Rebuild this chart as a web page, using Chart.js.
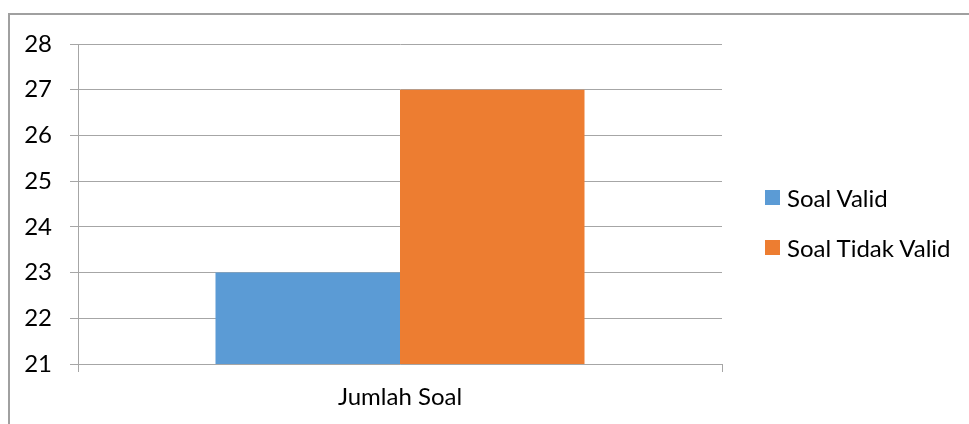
<!DOCTYPE html>
<html>
<head>
<meta charset="utf-8">
<script src="https://cdn.jsdelivr.net/npm/chart.js@4.4.1/dist/chart.umd.min.js"></script>
<style>
  html, body { margin: 0; padding: 0; background: #fff; overflow: hidden; }
  #wrap { position: relative; width: 969px; height: 424px; }
  #frame { position: absolute; left: 8px; top: 13px; width: 1000px; height: 500px; border: 2px solid #a0a0a0; box-sizing: border-box; }
  canvas { position: absolute; left: 0; top: 0; }
  #legend { position: absolute; left: 765px; top: 184px; font-family: Lato, sans-serif; font-size: 24px; color: #000; }
  .item { display: flex; align-items: center; height: 27px; margin-bottom: 23px; white-space: nowrap; }
  .box { width: 15px; height: 15px; margin-right: 7px; }
</style>
</head>
<body>
<div id="wrap">
  <div id="frame"></div>
  <canvas id="bars" width="969" height="424"></canvas>
  <div id="legend"></div>
</div>
<script>
// data
const categories = ['Jumlah Soal']
const seriesNames = ['Soal Valid', 'Soal Tidak Valid']
const soalValid = [23]
const soalTidakValid = [27]
const yTicks = [21, 22, 23, 24, 25, 26, 27, 28]

const colors = ['#5b9bd5', '#ed7d31']
const gridColor = '#a6a6a6'
const tickFont = { family: 'Lato', size: 24 }

const barConfig = {
    type: 'bar',
    data: {
        labels: categories,
        datasets: [{
            label: seriesNames[0],
            backgroundColor: colors[0],
            data: soalValid,
        }, {
            label: seriesNames[1],
            backgroundColor: colors[1],
            data: soalTidakValid,
        }],
    },
    options: {
        responsive: false,
        animation: false,
        devicePixelRatio: 1,
        barPercentage: 1,
        categoryPercentage: 0.573,
        layout: {
            padding: { top: 44, left: 0, right: 247, bottom: 0 },
        },
        plugins: {
            legend: { display: false },
            tooltip: { enabled: false },
        },
        scales: {
            x: {
                afterFit: scale => { scale.height = 60 },
                grid: {
                    drawOnChartArea: false,
                    drawTicks: true,
                    tickLength: 8,
                    color: gridColor,
                },
                border: { display: true, color: gridColor },
                ticks: { color: '#000', font: tickFont, padding: 11 },
            },
            y: {
                min: yTicks[0],
                max: yTicks[yTicks.length - 1],
                afterFit: scale => { scale.width = 78 },
                afterBuildTicks: scale => { scale.ticks = yTicks.map(v => ({ value: v })) },
                grid: { color: gridColor, tickLength: 8 },
                border: { display: true, color: gridColor },
                ticks: { color: '#000', font: tickFont, padding: 18 },
            },
        },
    },
}

const barsCtx = document.getElementById('bars')
window.myBar = new Chart(barsCtx, barConfig)

// legenda di kanan
const legendEl = document.getElementById('legend')
barConfig.data.datasets.forEach(ds => {
    const item = document.createElement('div')
    item.className = 'item'
    const box = document.createElement('span')
    box.className = 'box'
    box.style.background = ds.backgroundColor
    const txt = document.createElement('span')
    txt.textContent = ds.label
    item.appendChild(box)
    item.appendChild(txt)
    legendEl.appendChild(item)
})
</script>
</body>
</html>
